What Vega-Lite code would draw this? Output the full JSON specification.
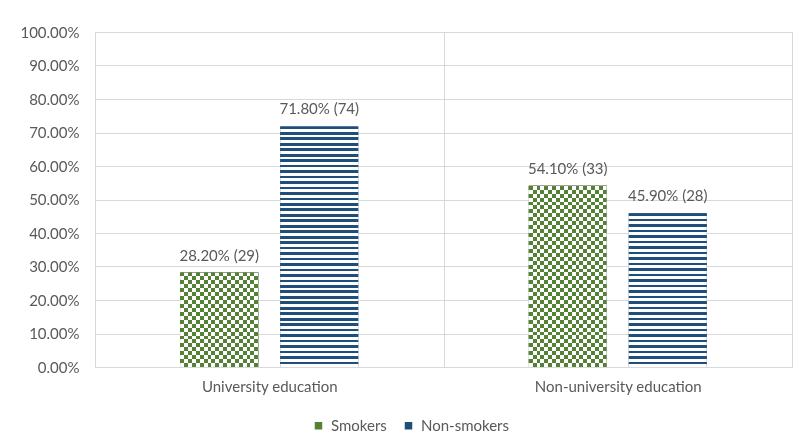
{
"$schema": "https://vega.github.io/schema/vega-lite/v6.json",
"width": 697, "height": 335,
"autosize": "none",
"padding": {"left": 95, "top": 32, "right": 10, "bottom": 80},
"background": "white",
"config": {"view": {"stroke": "#d9d9d9"}, "font": "Lato"},
"data": {"values": [
 {"education": "University education", "group": "Smokers", "pct": 0.282, "label": "28.20% (29)"},
 {"education": "University education", "group": "Non-smokers", "pct": 0.718, "label": "71.80% (74)"},
 {"education": "Non-university education", "group": "Smokers", "pct": 0.541, "label": "54.10% (33)"},
 {"education": "Non-university education", "group": "Non-smokers", "pct": 0.459, "label": "45.90% (28)"}
]},
"encoding": {
 "x": {"field": "education", "type": "nominal", "sort": ["University education", "Non-university education"],
  "scale": {"paddingInner": 0, "paddingOuter": 0},
  "axis": {"title": null, "labelAngle": 0, "domain": false, "ticks": false, "grid": true, "tickBand": "extent", "gridColor": "#d9d9d9", "labelPadding": 12, "labelFontSize": 15, "labelColor": "#595959", "labelFont": "Lato"}},
 "xOffset": {"field": "group", "type": "nominal", "scale": {"domain": ["Smokers", "Non-smokers"], "paddingInner": 0.22, "paddingOuter": 0.8525}},
 "y": {"field": "pct", "type": "quantitative", "scale": {"domain": [0, 1]},
  "axis": {"title": null, "format": ".2%", "values": [0, 0.1, 0.2, 0.3, 0.4, 0.5, 0.6, 0.7, 0.8, 0.9, 1], "domain": false, "ticks": false, "gridColor": "#d9d9d9", "labelPadding": 16, "labelFontSize": 15, "labelColor": "#595959", "labelFont": "Lato"}}
},
"layer": [
 {"mark": {"type": "bar"},
  "encoding": {"color": {"field": "group", "type": "nominal", "scale": {"domain": ["Smokers", "Non-smokers"], "range": ["#548235", "#1f4e79"]},
   "legend": {"orient": "none", "legendX": 216, "legendY": 386, "direction": "horizontal", "title": null, "symbolType": "square", "symbolSize": 56, "symbolStrokeWidth": 0, "labelFontSize": 15, "labelColor": "#595959", "labelFont": "Lato", "columnPadding": 14, "labelOffset": 5, "padding": 0}}}},
 {"transform": [{"filter": "datum.education == 'University education' && datum.group == 'Non-smokers'"}],
  "mark": {"type": "bar", "color": {"gradient": "linear", "x1": 0, "y1": 0, "x2": 0, "y2": 1, "stops": [
{"offset":0,"color":"#1f4e79"},{"offset":0.01136,"color":"#1f4e79"},{"offset":0.01136,"color":"#fff"},{"offset":0.02273,"color":"#fff"},
{"offset":0.02273,"color":"#1f4e79"},{"offset":0.03409,"color":"#1f4e79"},{"offset":0.03409,"color":"#fff"},{"offset":0.04545,"color":"#fff"},
{"offset":0.04545,"color":"#1f4e79"},{"offset":0.05682,"color":"#1f4e79"},{"offset":0.05682,"color":"#fff"},{"offset":0.06818,"color":"#fff"},
{"offset":0.06818,"color":"#1f4e79"},{"offset":0.07955,"color":"#1f4e79"},{"offset":0.07955,"color":"#fff"},{"offset":0.09091,"color":"#fff"},
{"offset":0.09091,"color":"#1f4e79"},{"offset":0.10227,"color":"#1f4e79"},{"offset":0.10227,"color":"#fff"},{"offset":0.11364,"color":"#fff"},
{"offset":0.11364,"color":"#1f4e79"},{"offset":0.125,"color":"#1f4e79"},{"offset":0.125,"color":"#fff"},{"offset":0.13636,"color":"#fff"},
{"offset":0.13636,"color":"#1f4e79"},{"offset":0.14773,"color":"#1f4e79"},{"offset":0.14773,"color":"#fff"},{"offset":0.15909,"color":"#fff"},
{"offset":0.15909,"color":"#1f4e79"},{"offset":0.17045,"color":"#1f4e79"},{"offset":0.17045,"color":"#fff"},{"offset":0.18182,"color":"#fff"},
{"offset":0.18182,"color":"#1f4e79"},{"offset":0.19318,"color":"#1f4e79"},{"offset":0.19318,"color":"#fff"},{"offset":0.20455,"color":"#fff"},
{"offset":0.20455,"color":"#1f4e79"},{"offset":0.21591,"color":"#1f4e79"},{"offset":0.21591,"color":"#fff"},{"offset":0.22727,"color":"#fff"},
{"offset":0.22727,"color":"#1f4e79"},{"offset":0.23864,"color":"#1f4e79"},{"offset":0.23864,"color":"#fff"},{"offset":0.25,"color":"#fff"},
{"offset":0.25,"color":"#1f4e79"},{"offset":0.26136,"color":"#1f4e79"},{"offset":0.26136,"color":"#fff"},{"offset":0.27273,"color":"#fff"},
{"offset":0.27273,"color":"#1f4e79"},{"offset":0.28409,"color":"#1f4e79"},{"offset":0.28409,"color":"#fff"},{"offset":0.29545,"color":"#fff"},
{"offset":0.29545,"color":"#1f4e79"},{"offset":0.30682,"color":"#1f4e79"},{"offset":0.30682,"color":"#fff"},{"offset":0.31818,"color":"#fff"},
{"offset":0.31818,"color":"#1f4e79"},{"offset":0.32955,"color":"#1f4e79"},{"offset":0.32955,"color":"#fff"},{"offset":0.34091,"color":"#fff"},
{"offset":0.34091,"color":"#1f4e79"},{"offset":0.35227,"color":"#1f4e79"},{"offset":0.35227,"color":"#fff"},{"offset":0.36364,"color":"#fff"},
{"offset":0.36364,"color":"#1f4e79"},{"offset":0.375,"color":"#1f4e79"},{"offset":0.375,"color":"#fff"},{"offset":0.38636,"color":"#fff"},
{"offset":0.38636,"color":"#1f4e79"},{"offset":0.39773,"color":"#1f4e79"},{"offset":0.39773,"color":"#fff"},{"offset":0.40909,"color":"#fff"},
{"offset":0.40909,"color":"#1f4e79"},{"offset":0.42045,"color":"#1f4e79"},{"offset":0.42045,"color":"#fff"},{"offset":0.43182,"color":"#fff"},
{"offset":0.43182,"color":"#1f4e79"},{"offset":0.44318,"color":"#1f4e79"},{"offset":0.44318,"color":"#fff"},{"offset":0.45455,"color":"#fff"},
{"offset":0.45455,"color":"#1f4e79"},{"offset":0.46591,"color":"#1f4e79"},{"offset":0.46591,"color":"#fff"},{"offset":0.47727,"color":"#fff"},
{"offset":0.47727,"color":"#1f4e79"},{"offset":0.48864,"color":"#1f4e79"},{"offset":0.48864,"color":"#fff"},{"offset":0.5,"color":"#fff"},
{"offset":0.5,"color":"#1f4e79"},{"offset":0.51136,"color":"#1f4e79"},{"offset":0.51136,"color":"#fff"},{"offset":0.52273,"color":"#fff"},
{"offset":0.52273,"color":"#1f4e79"},{"offset":0.53409,"color":"#1f4e79"},{"offset":0.53409,"color":"#fff"},{"offset":0.54545,"color":"#fff"},
{"offset":0.54545,"color":"#1f4e79"},{"offset":0.55682,"color":"#1f4e79"},{"offset":0.55682,"color":"#fff"},{"offset":0.56818,"color":"#fff"},
{"offset":0.56818,"color":"#1f4e79"},{"offset":0.57955,"color":"#1f4e79"},{"offset":0.57955,"color":"#fff"},{"offset":0.59091,"color":"#fff"},
{"offset":0.59091,"color":"#1f4e79"},{"offset":0.60227,"color":"#1f4e79"},{"offset":0.60227,"color":"#fff"},{"offset":0.61364,"color":"#fff"},
{"offset":0.61364,"color":"#1f4e79"},{"offset":0.625,"color":"#1f4e79"},{"offset":0.625,"color":"#fff"},{"offset":0.63636,"color":"#fff"},
{"offset":0.63636,"color":"#1f4e79"},{"offset":0.64773,"color":"#1f4e79"},{"offset":0.64773,"color":"#fff"},{"offset":0.65909,"color":"#fff"},
{"offset":0.65909,"color":"#1f4e79"},{"offset":0.67045,"color":"#1f4e79"},{"offset":0.67045,"color":"#fff"},{"offset":0.68182,"color":"#fff"},
{"offset":0.68182,"color":"#1f4e79"},{"offset":0.69318,"color":"#1f4e79"},{"offset":0.69318,"color":"#fff"},{"offset":0.70455,"color":"#fff"},
{"offset":0.70455,"color":"#1f4e79"},{"offset":0.71591,"color":"#1f4e79"},{"offset":0.71591,"color":"#fff"},{"offset":0.72727,"color":"#fff"},
{"offset":0.72727,"color":"#1f4e79"},{"offset":0.73864,"color":"#1f4e79"},{"offset":0.73864,"color":"#fff"},{"offset":0.75,"color":"#fff"},
{"offset":0.75,"color":"#1f4e79"},{"offset":0.76136,"color":"#1f4e79"},{"offset":0.76136,"color":"#fff"},{"offset":0.77273,"color":"#fff"},
{"offset":0.77273,"color":"#1f4e79"},{"offset":0.78409,"color":"#1f4e79"},{"offset":0.78409,"color":"#fff"},{"offset":0.79545,"color":"#fff"},
{"offset":0.79545,"color":"#1f4e79"},{"offset":0.80682,"color":"#1f4e79"},{"offset":0.80682,"color":"#fff"},{"offset":0.81818,"color":"#fff"},
{"offset":0.81818,"color":"#1f4e79"},{"offset":0.82955,"color":"#1f4e79"},{"offset":0.82955,"color":"#fff"},{"offset":0.84091,"color":"#fff"},
{"offset":0.84091,"color":"#1f4e79"},{"offset":0.85227,"color":"#1f4e79"},{"offset":0.85227,"color":"#fff"},{"offset":0.86364,"color":"#fff"},
{"offset":0.86364,"color":"#1f4e79"},{"offset":0.875,"color":"#1f4e79"},{"offset":0.875,"color":"#fff"},{"offset":0.88636,"color":"#fff"},
{"offset":0.88636,"color":"#1f4e79"},{"offset":0.89773,"color":"#1f4e79"},{"offset":0.89773,"color":"#fff"},{"offset":0.90909,"color":"#fff"},
{"offset":0.90909,"color":"#1f4e79"},{"offset":0.92045,"color":"#1f4e79"},{"offset":0.92045,"color":"#fff"},{"offset":0.93182,"color":"#fff"},
{"offset":0.93182,"color":"#1f4e79"},{"offset":0.94318,"color":"#1f4e79"},{"offset":0.94318,"color":"#fff"},{"offset":0.95455,"color":"#fff"},
{"offset":0.95455,"color":"#1f4e79"},{"offset":0.96591,"color":"#1f4e79"},{"offset":0.96591,"color":"#fff"},{"offset":0.97727,"color":"#fff"},
{"offset":0.97727,"color":"#1f4e79"},{"offset":0.98864,"color":"#1f4e79"},{"offset":0.98864,"color":"#fff"},{"offset":1,"color":"#fff"}
  ]}}},
 {"transform": [{"filter": "datum.education == 'Non-university education' && datum.group == 'Non-smokers'"}],
  "mark": {"type": "bar", "color": {"gradient": "linear", "x1": 0, "y1": 0, "x2": 0, "y2": 1, "stops": [
{"offset":0,"color":"#1f4e79"},{"offset":0.01786,"color":"#1f4e79"},{"offset":0.01786,"color":"#fff"},{"offset":0.03571,"color":"#fff"},
{"offset":0.03571,"color":"#1f4e79"},{"offset":0.05357,"color":"#1f4e79"},{"offset":0.05357,"color":"#fff"},{"offset":0.07143,"color":"#fff"},
{"offset":0.07143,"color":"#1f4e79"},{"offset":0.08929,"color":"#1f4e79"},{"offset":0.08929,"color":"#fff"},{"offset":0.10714,"color":"#fff"},
{"offset":0.10714,"color":"#1f4e79"},{"offset":0.125,"color":"#1f4e79"},{"offset":0.125,"color":"#fff"},{"offset":0.14286,"color":"#fff"},
{"offset":0.14286,"color":"#1f4e79"},{"offset":0.16071,"color":"#1f4e79"},{"offset":0.16071,"color":"#fff"},{"offset":0.17857,"color":"#fff"},
{"offset":0.17857,"color":"#1f4e79"},{"offset":0.19643,"color":"#1f4e79"},{"offset":0.19643,"color":"#fff"},{"offset":0.21429,"color":"#fff"},
{"offset":0.21429,"color":"#1f4e79"},{"offset":0.23214,"color":"#1f4e79"},{"offset":0.23214,"color":"#fff"},{"offset":0.25,"color":"#fff"},
{"offset":0.25,"color":"#1f4e79"},{"offset":0.26786,"color":"#1f4e79"},{"offset":0.26786,"color":"#fff"},{"offset":0.28571,"color":"#fff"},
{"offset":0.28571,"color":"#1f4e79"},{"offset":0.30357,"color":"#1f4e79"},{"offset":0.30357,"color":"#fff"},{"offset":0.32143,"color":"#fff"},
{"offset":0.32143,"color":"#1f4e79"},{"offset":0.33929,"color":"#1f4e79"},{"offset":0.33929,"color":"#fff"},{"offset":0.35714,"color":"#fff"},
{"offset":0.35714,"color":"#1f4e79"},{"offset":0.375,"color":"#1f4e79"},{"offset":0.375,"color":"#fff"},{"offset":0.39286,"color":"#fff"},
{"offset":0.39286,"color":"#1f4e79"},{"offset":0.41071,"color":"#1f4e79"},{"offset":0.41071,"color":"#fff"},{"offset":0.42857,"color":"#fff"},
{"offset":0.42857,"color":"#1f4e79"},{"offset":0.44643,"color":"#1f4e79"},{"offset":0.44643,"color":"#fff"},{"offset":0.46429,"color":"#fff"},
{"offset":0.46429,"color":"#1f4e79"},{"offset":0.48214,"color":"#1f4e79"},{"offset":0.48214,"color":"#fff"},{"offset":0.5,"color":"#fff"},
{"offset":0.5,"color":"#1f4e79"},{"offset":0.51786,"color":"#1f4e79"},{"offset":0.51786,"color":"#fff"},{"offset":0.53571,"color":"#fff"},
{"offset":0.53571,"color":"#1f4e79"},{"offset":0.55357,"color":"#1f4e79"},{"offset":0.55357,"color":"#fff"},{"offset":0.57143,"color":"#fff"},
{"offset":0.57143,"color":"#1f4e79"},{"offset":0.58929,"color":"#1f4e79"},{"offset":0.58929,"color":"#fff"},{"offset":0.60714,"color":"#fff"},
{"offset":0.60714,"color":"#1f4e79"},{"offset":0.625,"color":"#1f4e79"},{"offset":0.625,"color":"#fff"},{"offset":0.64286,"color":"#fff"},
{"offset":0.64286,"color":"#1f4e79"},{"offset":0.66071,"color":"#1f4e79"},{"offset":0.66071,"color":"#fff"},{"offset":0.67857,"color":"#fff"},
{"offset":0.67857,"color":"#1f4e79"},{"offset":0.69643,"color":"#1f4e79"},{"offset":0.69643,"color":"#fff"},{"offset":0.71429,"color":"#fff"},
{"offset":0.71429,"color":"#1f4e79"},{"offset":0.73214,"color":"#1f4e79"},{"offset":0.73214,"color":"#fff"},{"offset":0.75,"color":"#fff"},
{"offset":0.75,"color":"#1f4e79"},{"offset":0.76786,"color":"#1f4e79"},{"offset":0.76786,"color":"#fff"},{"offset":0.78571,"color":"#fff"},
{"offset":0.78571,"color":"#1f4e79"},{"offset":0.80357,"color":"#1f4e79"},{"offset":0.80357,"color":"#fff"},{"offset":0.82143,"color":"#fff"},
{"offset":0.82143,"color":"#1f4e79"},{"offset":0.83929,"color":"#1f4e79"},{"offset":0.83929,"color":"#fff"},{"offset":0.85714,"color":"#fff"},
{"offset":0.85714,"color":"#1f4e79"},{"offset":0.875,"color":"#1f4e79"},{"offset":0.875,"color":"#fff"},{"offset":0.89286,"color":"#fff"},
{"offset":0.89286,"color":"#1f4e79"},{"offset":0.91071,"color":"#1f4e79"},{"offset":0.91071,"color":"#fff"},{"offset":0.92857,"color":"#fff"},
{"offset":0.92857,"color":"#1f4e79"},{"offset":0.94643,"color":"#1f4e79"},{"offset":0.94643,"color":"#fff"},{"offset":0.96429,"color":"#fff"},
{"offset":0.96429,"color":"#1f4e79"},{"offset":0.98214,"color":"#1f4e79"},{"offset":0.98214,"color":"#fff"},{"offset":1,"color":"#fff"}
  ]}}},
 {"transform": [{"filter": "datum.education == 'University education' && datum.group == 'Smokers'"}],
  "mark": {"type": "bar", "color": {"gradient": "linear", "x1": 0, "y1": 0, "x2": 0, "y2": 1, "stops": [
{"offset":0,"color":"#000"},{"offset":0.04167,"color":"#000"},{"offset":0.04167,"color":"#fff"},{"offset":0.08333,"color":"#fff"},
{"offset":0.08333,"color":"#000"},{"offset":0.125,"color":"#000"},{"offset":0.125,"color":"#fff"},{"offset":0.16667,"color":"#fff"},
{"offset":0.16667,"color":"#000"},{"offset":0.20833,"color":"#000"},{"offset":0.20833,"color":"#fff"},{"offset":0.25,"color":"#fff"},
{"offset":0.25,"color":"#000"},{"offset":0.29167,"color":"#000"},{"offset":0.29167,"color":"#fff"},{"offset":0.33333,"color":"#fff"},
{"offset":0.33333,"color":"#000"},{"offset":0.375,"color":"#000"},{"offset":0.375,"color":"#fff"},{"offset":0.41667,"color":"#fff"},
{"offset":0.41667,"color":"#000"},{"offset":0.45833,"color":"#000"},{"offset":0.45833,"color":"#fff"},{"offset":0.5,"color":"#fff"},
{"offset":0.5,"color":"#000"},{"offset":0.54167,"color":"#000"},{"offset":0.54167,"color":"#fff"},{"offset":0.58333,"color":"#fff"},
{"offset":0.58333,"color":"#000"},{"offset":0.625,"color":"#000"},{"offset":0.625,"color":"#fff"},{"offset":0.66667,"color":"#fff"},
{"offset":0.66667,"color":"#000"},{"offset":0.70833,"color":"#000"},{"offset":0.70833,"color":"#fff"},{"offset":0.75,"color":"#fff"},
{"offset":0.75,"color":"#000"},{"offset":0.79167,"color":"#000"},{"offset":0.79167,"color":"#fff"},{"offset":0.83333,"color":"#fff"},
{"offset":0.83333,"color":"#000"},{"offset":0.875,"color":"#000"},{"offset":0.875,"color":"#fff"},{"offset":0.91667,"color":"#fff"},
{"offset":0.91667,"color":"#000"},{"offset":0.95833,"color":"#000"},{"offset":0.95833,"color":"#fff"},{"offset":1,"color":"#fff"}
  ]}}},
 {"transform": [{"filter": "datum.education == 'Non-university education' && datum.group == 'Smokers'"}],
  "mark": {"type": "bar", "color": {"gradient": "linear", "x1": 0, "y1": 0, "x2": 0, "y2": 1, "stops": [
{"offset":0,"color":"#000"},{"offset":0.02174,"color":"#000"},{"offset":0.02174,"color":"#fff"},{"offset":0.04348,"color":"#fff"},
{"offset":0.04348,"color":"#000"},{"offset":0.06522,"color":"#000"},{"offset":0.06522,"color":"#fff"},{"offset":0.08696,"color":"#fff"},
{"offset":0.08696,"color":"#000"},{"offset":0.1087,"color":"#000"},{"offset":0.1087,"color":"#fff"},{"offset":0.13043,"color":"#fff"},
{"offset":0.13043,"color":"#000"},{"offset":0.15217,"color":"#000"},{"offset":0.15217,"color":"#fff"},{"offset":0.17391,"color":"#fff"},
{"offset":0.17391,"color":"#000"},{"offset":0.19565,"color":"#000"},{"offset":0.19565,"color":"#fff"},{"offset":0.21739,"color":"#fff"},
{"offset":0.21739,"color":"#000"},{"offset":0.23913,"color":"#000"},{"offset":0.23913,"color":"#fff"},{"offset":0.26087,"color":"#fff"},
{"offset":0.26087,"color":"#000"},{"offset":0.28261,"color":"#000"},{"offset":0.28261,"color":"#fff"},{"offset":0.30435,"color":"#fff"},
{"offset":0.30435,"color":"#000"},{"offset":0.32609,"color":"#000"},{"offset":0.32609,"color":"#fff"},{"offset":0.34783,"color":"#fff"},
{"offset":0.34783,"color":"#000"},{"offset":0.36957,"color":"#000"},{"offset":0.36957,"color":"#fff"},{"offset":0.3913,"color":"#fff"},
{"offset":0.3913,"color":"#000"},{"offset":0.41304,"color":"#000"},{"offset":0.41304,"color":"#fff"},{"offset":0.43478,"color":"#fff"},
{"offset":0.43478,"color":"#000"},{"offset":0.45652,"color":"#000"},{"offset":0.45652,"color":"#fff"},{"offset":0.47826,"color":"#fff"},
{"offset":0.47826,"color":"#000"},{"offset":0.5,"color":"#000"},{"offset":0.5,"color":"#fff"},{"offset":0.52174,"color":"#fff"},
{"offset":0.52174,"color":"#000"},{"offset":0.54348,"color":"#000"},{"offset":0.54348,"color":"#fff"},{"offset":0.56522,"color":"#fff"},
{"offset":0.56522,"color":"#000"},{"offset":0.58696,"color":"#000"},{"offset":0.58696,"color":"#fff"},{"offset":0.6087,"color":"#fff"},
{"offset":0.6087,"color":"#000"},{"offset":0.63043,"color":"#000"},{"offset":0.63043,"color":"#fff"},{"offset":0.65217,"color":"#fff"},
{"offset":0.65217,"color":"#000"},{"offset":0.67391,"color":"#000"},{"offset":0.67391,"color":"#fff"},{"offset":0.69565,"color":"#fff"},
{"offset":0.69565,"color":"#000"},{"offset":0.71739,"color":"#000"},{"offset":0.71739,"color":"#fff"},{"offset":0.73913,"color":"#fff"},
{"offset":0.73913,"color":"#000"},{"offset":0.76087,"color":"#000"},{"offset":0.76087,"color":"#fff"},{"offset":0.78261,"color":"#fff"},
{"offset":0.78261,"color":"#000"},{"offset":0.80435,"color":"#000"},{"offset":0.80435,"color":"#fff"},{"offset":0.82609,"color":"#fff"},
{"offset":0.82609,"color":"#000"},{"offset":0.84783,"color":"#000"},{"offset":0.84783,"color":"#fff"},{"offset":0.86957,"color":"#fff"},
{"offset":0.86957,"color":"#000"},{"offset":0.8913,"color":"#000"},{"offset":0.8913,"color":"#fff"},{"offset":0.91304,"color":"#fff"},
{"offset":0.91304,"color":"#000"},{"offset":0.93478,"color":"#000"},{"offset":0.93478,"color":"#fff"},{"offset":0.95652,"color":"#fff"},
{"offset":0.95652,"color":"#000"},{"offset":0.97826,"color":"#000"},{"offset":0.97826,"color":"#fff"},{"offset":1,"color":"#fff"}
  ]}}},
 {"transform": [{"filter": "datum.group == 'Smokers'"}],
  "mark": {"type": "bar", "blend": "difference", "color": {"gradient": "linear", "x1": 0, "y1": 0, "x2": 1, "y2": 0, "stops": [
{"offset":0,"color":"rgba(255,255,255,0)"},{"offset":0.05,"color":"rgba(255,255,255,0)"},{"offset":0.05,"color":"#fff"},{"offset":0.1,"color":"#fff"},
{"offset":0.1,"color":"rgba(255,255,255,0)"},{"offset":0.15,"color":"rgba(255,255,255,0)"},{"offset":0.15,"color":"#fff"},{"offset":0.2,"color":"#fff"},
{"offset":0.2,"color":"rgba(255,255,255,0)"},{"offset":0.25,"color":"rgba(255,255,255,0)"},{"offset":0.25,"color":"#fff"},{"offset":0.3,"color":"#fff"},
{"offset":0.3,"color":"rgba(255,255,255,0)"},{"offset":0.35,"color":"rgba(255,255,255,0)"},{"offset":0.35,"color":"#fff"},{"offset":0.4,"color":"#fff"},
{"offset":0.4,"color":"rgba(255,255,255,0)"},{"offset":0.45,"color":"rgba(255,255,255,0)"},{"offset":0.45,"color":"#fff"},{"offset":0.5,"color":"#fff"},
{"offset":0.5,"color":"rgba(255,255,255,0)"},{"offset":0.55,"color":"rgba(255,255,255,0)"},{"offset":0.55,"color":"#fff"},{"offset":0.6,"color":"#fff"},
{"offset":0.6,"color":"rgba(255,255,255,0)"},{"offset":0.65,"color":"rgba(255,255,255,0)"},{"offset":0.65,"color":"#fff"},{"offset":0.7,"color":"#fff"},
{"offset":0.7,"color":"rgba(255,255,255,0)"},{"offset":0.75,"color":"rgba(255,255,255,0)"},{"offset":0.75,"color":"#fff"},{"offset":0.8,"color":"#fff"},
{"offset":0.8,"color":"rgba(255,255,255,0)"},{"offset":0.85,"color":"rgba(255,255,255,0)"},{"offset":0.85,"color":"#fff"},{"offset":0.9,"color":"#fff"},
{"offset":0.9,"color":"rgba(255,255,255,0)"},{"offset":0.95,"color":"rgba(255,255,255,0)"},{"offset":0.95,"color":"#fff"},{"offset":1,"color":"#fff"}
  ]}}},
 {"transform": [{"filter": "datum.group == 'Smokers'"}],
  "mark": {"type": "bar", "blend": "screen", "color": "#548235"}},
 {"mark": {"type": "text", "baseline": "alphabetic", "dy": -12, "fontSize": 15, "color": "#595959", "font": "Lato"},
  "encoding": {"text": {"field": "label", "type": "nominal"}}}
]
}
